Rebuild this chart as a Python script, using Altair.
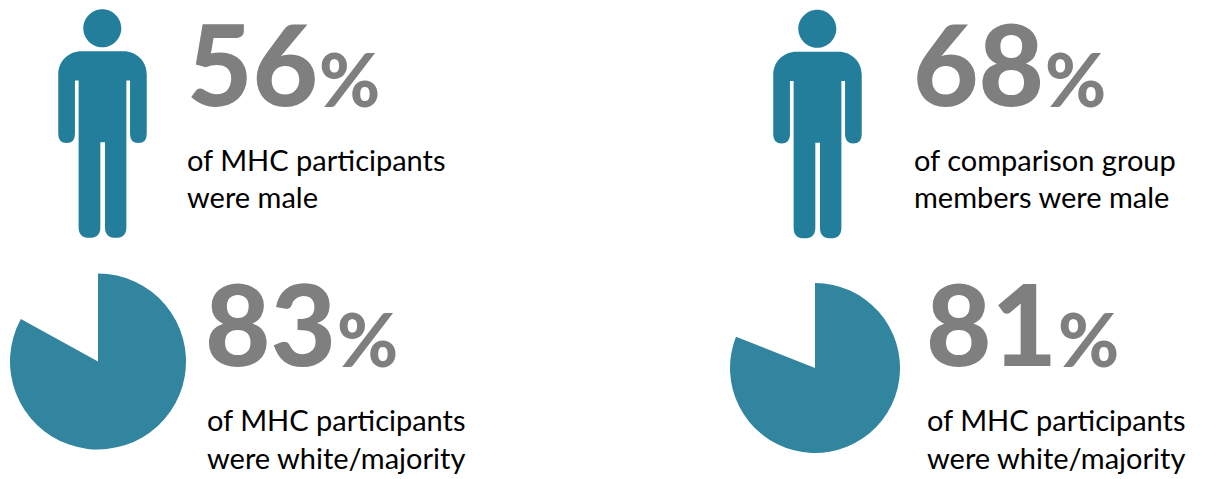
import altair as alt
import pandas as pd

# Headline shares, in percent
male_shares = [56, 68]
male_captions = [["of MHC participants", "were male"],
                 ["of comparison group", "members were male"]]
white_shares = [83, 81]
white_captions = [["of MHC participants", "were white/majority"],
                  ["of MHC participants", "were white/majority"]]

FONT = "Lato"
GREY = "#7f7f7f"
ICON_TEAL = "#227e9b"
PIE_TEAL = "#32859f"


def person_path():
    """Person glyph drawn on a 0-375 x 27-710 design grid, normalised to the [-1, 1] symbol box."""
    cx, cy, half = 187.5, 368.5, 341.5
    segs = [
        # head
        ("M", 187, 26), ("C", 218, 26, 244, 52, 244, 83), ("C", 244, 114, 218, 140, 187, 140),
        ("C", 156, 140, 130, 114, 130, 83), ("C", 130, 52, 156, 26, 187, 26), ("Z",),
        # torso, arms and legs
        ("M", 125, 152), ("L", 250, 152), ("C", 290, 152, 320, 182, 320, 222), ("L", 320, 400),
        ("Q", 320, 427, 295, 427), ("Q", 270, 427, 270, 400), ("L", 270, 240), ("L", 259, 240),
        ("L", 259, 680), ("Q", 259, 711, 227, 711), ("Q", 195, 711, 195, 680), ("L", 195, 425),
        ("L", 181, 425), ("L", 181, 680), ("Q", 181, 711, 148, 711), ("Q", 116, 711, 116, 680),
        ("L", 116, 240), ("L", 105, 240), ("L", 105, 400), ("Q", 105, 427, 80, 427),
        ("Q", 55, 427, 55, 400), ("L", 55, 222), ("C", 55, 182, 85, 152, 125, 152), ("Z",),
    ]
    parts = []
    for seg in segs:
        nums = seg[1:]
        coords = []
        for i in range(0, len(nums), 2):
            coords.append(f"{(nums[i] - cx) / half:.4f}")
            coords.append(f"{(nums[i + 1] - cy) / half:.4f}")
        parts.append(seg[0] + " ".join(coords))
    return " ".join(parts)


def text_layer(label, x, y, size, color, weight="normal"):
    return (
        alt.Chart(pd.DataFrame({"label": [label]}))
        .mark_text(align="left", baseline="alphabetic", font=FONT, fontSize=size,
                   fontWeight=weight, color=color)
        .encode(x=alt.value(x), y=alt.value(y), text="label:N")
    )


def stat_block(value, lines, num_x, pct_x, num_y, cap_x, cap_ys):
    layers = [
        text_layer(str(value), num_x, num_y, 113, GREY, 900),
        text_layer("%", pct_x, num_y + 1, 74, GREY, 900),
    ]
    for line, y in zip(lines, cap_ys):
        layers.append(text_layer(line, cap_x, y, 29, "#000000"))
    return layers


def person(x, y):
    return (
        alt.Chart(pd.DataFrame({"n": [1]}))
        .mark_point(shape=person_path(), size=52000, filled=True, opacity=1, color=ICON_TEAL, strokeWidth=0)
        .encode(x=alt.value(x), y=alt.value(y))
    )


def pie(share, x, y, radius):
    return (
        alt.Chart(pd.DataFrame({"share": [share]}))
        .mark_arc(radius=radius, color=PIE_TEAL)
        .encode(
            x=alt.value(x),
            y=alt.value(y),
            theta=alt.Theta("share:Q", stack=True,
                            scale=alt.Scale(domain=[0, 100], range=[0, 6.28318530718])),
        )
    )


layers = [
    person(102.5, 123.5),
    person(817.5, 124),
    pie(white_shares[0], 98, 361.5, 88),
    pie(white_shares[1], 815, 368, 85),
]
layers += stat_block(male_shares[0], male_captions[0], 187, 319, 106, 187, [171, 208])
layers += stat_block(male_shares[1], male_captions[1], 913, 1045, 106, 914, [171, 208])
layers += stat_block(white_shares[0], white_captions[0], 205, 337, 366, 207, [431, 469])
layers += stat_block(white_shares[1], white_captions[1], 926, 1058, 366, 927, [431, 469])

chart = (
    alt.layer(*layers)
    .properties(width=1206, height=479, padding=0, background="white")
    .configure_view(stroke=None)
)

chart.save("out.html", embed_options={"renderer": "svg", "actions": False})
